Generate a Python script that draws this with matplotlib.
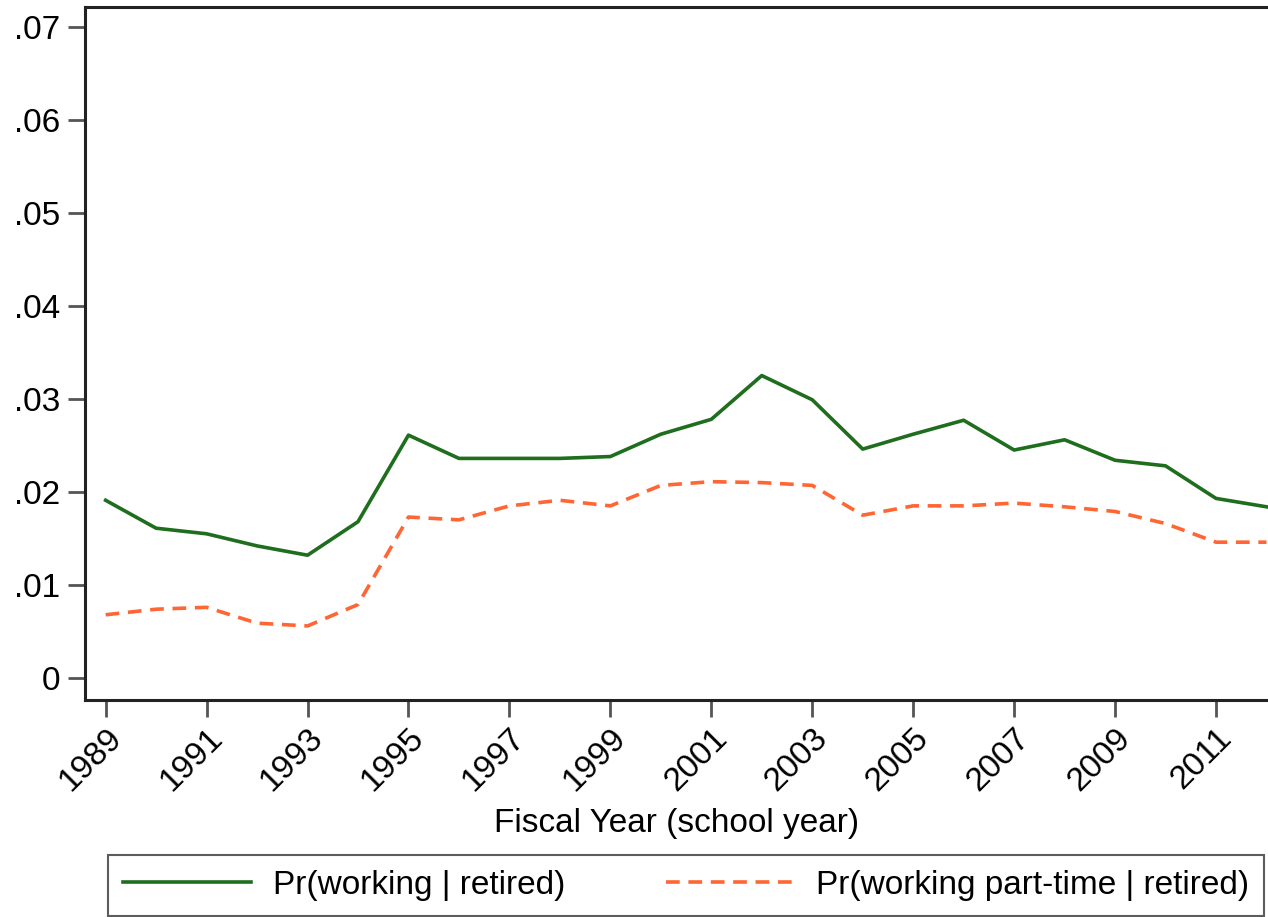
import matplotlib
matplotlib.use('Agg')
from matplotlib import pyplot as plt

# values
years = list(range(1989, 2013))
pr_working = [0.0191, 0.0161, 0.0155, 0.0142, 0.0132, 0.0168, 0.0261, 0.0236,
              0.0236, 0.0236, 0.0238, 0.0262, 0.0278, 0.0325, 0.0299, 0.0246,
              0.0262, 0.0277, 0.0245, 0.0256, 0.0234, 0.0228, 0.0193, 0.0184]
pr_parttime = [0.0068, 0.0074, 0.0076, 0.0059, 0.0056, 0.0079, 0.0173, 0.0170,
               0.0185, 0.0191, 0.0185, 0.0207, 0.0211, 0.0210, 0.0207, 0.0175,
               0.0185, 0.0185, 0.0188, 0.0184, 0.0179, 0.0166, 0.0146, 0.0146]

xtick_years = list(range(1989, 2012, 2))
ytick_vals = [0, 0.01, 0.02, 0.03, 0.04, 0.05, 0.06, 0.07]
ytick_labels = ['0', '.01', '.02', '.03', '.04', '.05', '.06', '.07']

plt.rcParams['font.family'] = ['Liberation Sans', 'DejaVu Sans']

fig = plt.figure(figsize=(12.68, 9.17), dpi=100)
ax = fig.add_axes([0.067, 0.2366, 0.933, 0.7558])

ax.plot(years, pr_working, color='#1e6e1e', lw=2.6, label='Pr(working | retired)')
ax.plot(years, pr_parttime, color='#ff6633', lw=2.6, ls=(0, (3.8, 2.4)),
        label='Pr(working part-time | retired)')

ax.set_xlim(1988.59, 2012.03)
ax.set_ylim(-0.00236, 0.0721)

ax.set_xticks(xtick_years)
ax.set_xticklabels([str(y) for y in xtick_years], rotation=45, ha='right',
                   rotation_mode='anchor', fontsize=24)
ax.set_yticks(ytick_vals)
ax.set_yticklabels(ytick_labels, fontsize=24)
ax.tick_params(axis='both', length=12, width=2, color='#555555', pad=6)
ax.tick_params(axis='x', pad=4)

for side in ['left', 'bottom', 'top']:
    ax.spines[side].set_linewidth(2.2)
    ax.spines[side].set_color('#222222')
ax.spines['right'].set_visible(False)

ax.set_xlabel('Fiscal Year (school year)', fontsize=24, labelpad=8)

leg = fig.legend(loc='upper left', bbox_to_anchor=(0.085, 0.0676, 0.912, 0),
                 mode='expand', ncol=2, fontsize=24, handlelength=3.85,
                 frameon=True, fancybox=False, borderpad=0.45, borderaxespad=0,
                 columnspacing=2.0, handletextpad=0.66)
leg.get_frame().set_edgecolor('#333333')
leg.get_frame().set_linewidth(1.5)

fig.savefig('out.png', dpi=100)
